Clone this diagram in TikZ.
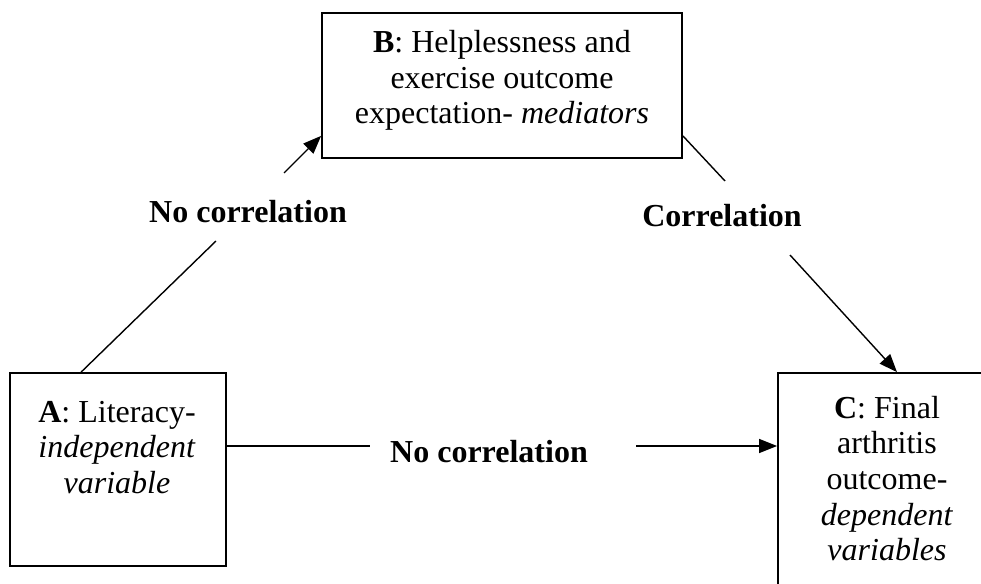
\documentclass[tikz,border=0pt]{standalone}
\usepackage{fontspec}
\setmainfont{Liberation Serif}
\usetikzlibrary{arrows.meta}
\begin{document}
\begin{tikzpicture}[x=1pt,y=-1pt,
  box/.style={draw, line width=1.8pt, inner sep=0pt},
  body/.style={font=\fontsize{32}{35.7}\selectfont, align=center, inner sep=0pt},
  tag/.style={font=\fontsize{32}{35.7}\selectfont\bfseries, inner sep=0pt},
  conn/.style={line width=1.4pt},
  arr/.style={conn, -{Triangle[length=18pt,width=14pt]}}]
\clip (0,0) rectangle (981,583);

% the three variable boxes
\node[box, minimum width=360pt, minimum height=145pt] (B) at (502,85.5) {};
\node[box, minimum width=216pt, minimum height=193pt] (A) at (118,469.5) {};
\node[box, minimum width=218pt, minimum height=212pt] (C) at (887,479) {};

% box texts
\node[body] (Bt) at (502,80.5) {\textbf{B}: Helplessness and\\exercise outcome\\expectation- \textit{mediators}};
\node[body] (At) at (117,447.5) {\textbf{A}: Literacy-\\\textit{independent}\\\textit{variable}};
\node[body] (Ct) at (887,478.5) {\textbf{C}: Final\\arthritis\\outcome-\\\textit{dependent}\\\textit{variables}};

% path labels
\node[tag] (L1) at (248,212) {No correlation};
\node[tag] (L2) at (722,216) {Correlation};
\node[tag] (L3) at (489,452) {No correlation};

% attachment points and gap ends
\coordinate (a1) at ([xshift=72pt]A.north west);
\coordinate (a2) at ([yshift=23.5pt]A.east);
\coordinate (b1) at ([yshift=23pt]B.south west);
\coordinate (b2) at ([yshift=23pt]B.south east);
\coordinate (c1) at ([xshift=10pt]C.north);
\coordinate (c2) at ([yshift=33pt]C.west);
\coordinate (g1) at (216,241);
\coordinate (g2) at (284,173);
\coordinate (g3) at (725,181);
\coordinate (g4) at (790,255);
\coordinate (g5) at (370,446);
\coordinate (g6) at (636,446);

% A -> B
\draw[conn] (a1) -- (g1);
\draw[arr] (g2) -- (b1);
% B -> C
\draw[conn] (b2) -- (g3);
\draw[arr] (g4) -- (c1);
% A -> C
\draw[conn] (a2) -- (g5);
\draw[arr] (g6) -- (c2);
\end{tikzpicture}
\end{document}
